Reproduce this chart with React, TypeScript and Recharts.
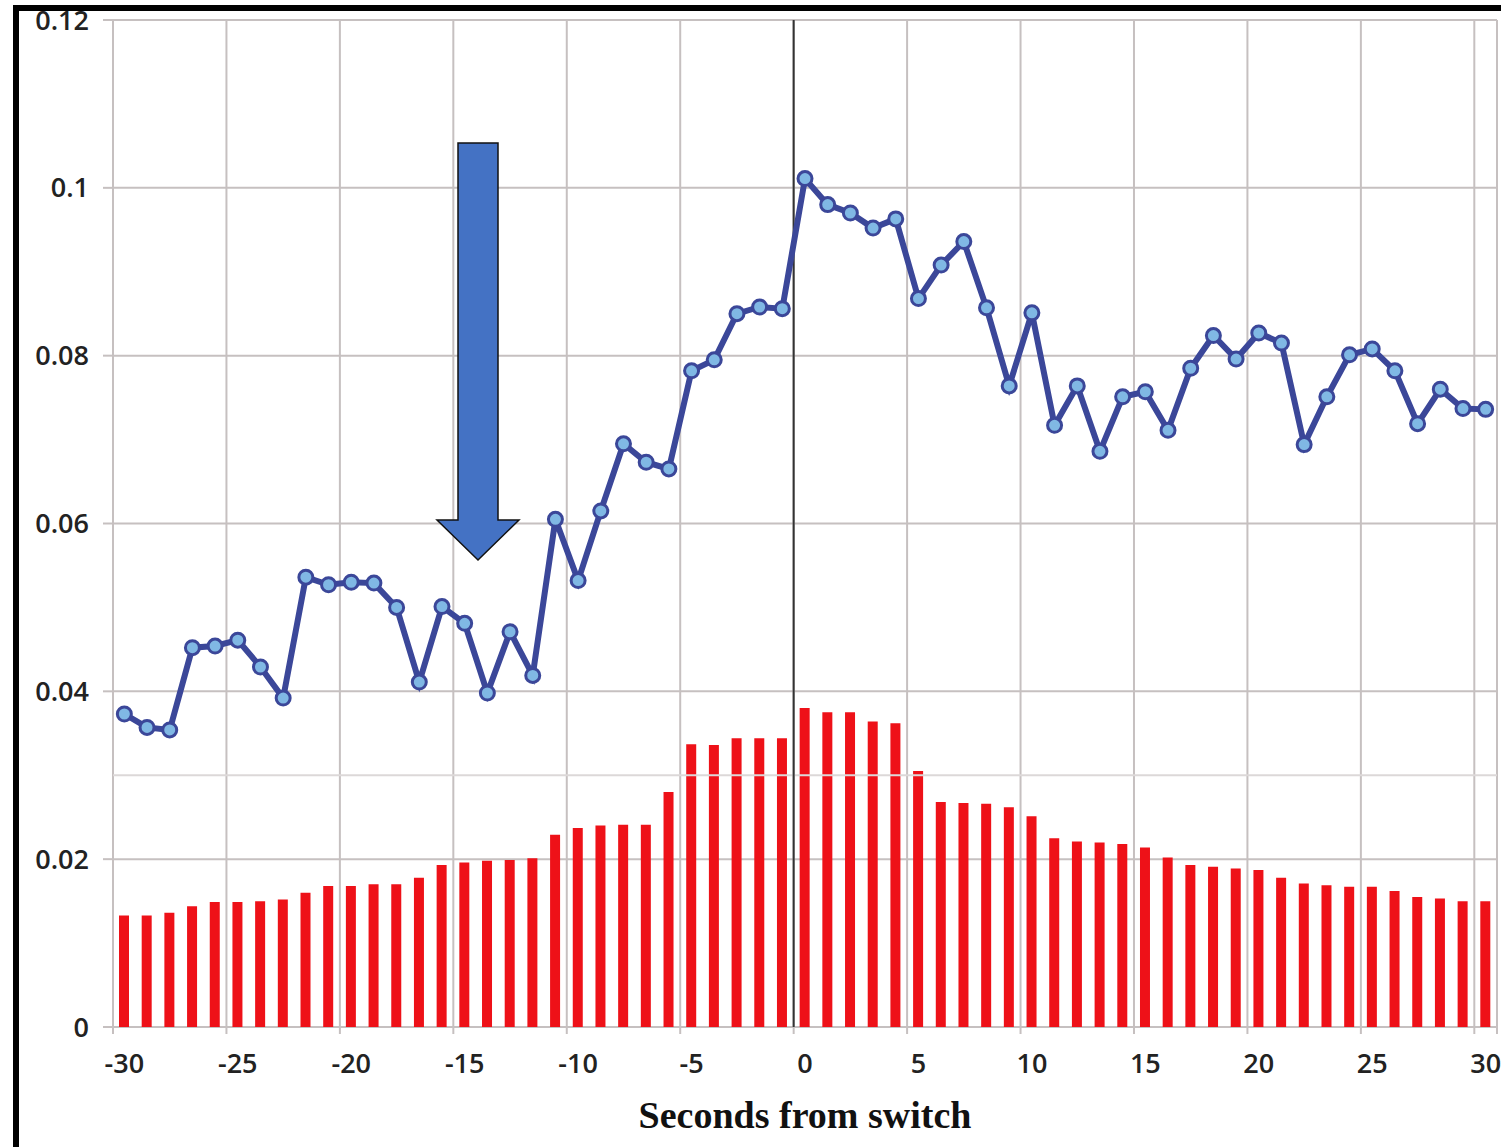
import React from 'react';
import { ComposedChart, Bar, Line, XAxis, YAxis, CartesianGrid, ReferenceLine } from 'recharts';

const seconds = [
  -30, -29, -28, -27, -26, -25, -24, -23, -22, -21,
  -20, -19, -18, -17, -16, -15, -14, -13, -12, -11,
  -10, -9, -8, -7, -6, -5, -4, -3, -2, -1,
  0, 1, 2, 3, 4, 5, 6, 7, 8, 9,
  10, 11, 12, 13, 14, 15, 16, 17, 18, 19,
  20, 21, 22, 23, 24, 25, 26, 27, 28, 29, 30,
];

const blueSeries = [
  0.0373, 0.0357, 0.0354, 0.0452, 0.0454, 0.0461, 0.0429, 0.0392, 0.0536, 0.0527,
  0.0530, 0.0529, 0.0500, 0.0411, 0.0501, 0.0481, 0.0398, 0.0471, 0.0419, 0.0605,
  0.0532, 0.0615, 0.0695, 0.0673, 0.0665, 0.0782, 0.0795, 0.0850, 0.0858, 0.0856,
  0.1011, 0.0980, 0.0970, 0.0952, 0.0963, 0.0868, 0.0908, 0.0936, 0.0857, 0.0764,
  0.0851, 0.0717, 0.0764, 0.0686, 0.0751, 0.0757, 0.0711, 0.0785, 0.0824, 0.0796,
  0.0827, 0.0815, 0.0694, 0.0751, 0.0801, 0.0808, 0.0782, 0.0719, 0.0760, 0.0737, 0.0736,
];

const redSeries = [
  0.0133, 0.0133, 0.0136, 0.0144, 0.0149, 0.0149, 0.0150, 0.0152, 0.0160, 0.0168,
  0.0168, 0.0170, 0.0170, 0.0178, 0.0193, 0.0196, 0.0198, 0.0199, 0.0201, 0.0229,
  0.0237, 0.0240, 0.0241, 0.0241, 0.0280, 0.0337, 0.0336, 0.0344, 0.0344, 0.0344,
  0.0380, 0.0375, 0.0375, 0.0364, 0.0362, 0.0305, 0.0268, 0.0267, 0.0266, 0.0262,
  0.0251, 0.0225, 0.0221, 0.0220, 0.0218, 0.0214, 0.0202, 0.0193, 0.0191, 0.0189,
  0.0187, 0.0178, 0.0171, 0.0169, 0.0167, 0.0167, 0.0162, 0.0155, 0.0153, 0.0150, 0.0150,
];

const xTickLabels = [-30, -25, -20, -15, -10, -5, 0, 5, 10, 15, 20, 25, 30];
const gridBoundaries = [-30.5, -25.5, -20.5, -15.5, -10.5, -5.5, -0.5, 4.5, 9.5, 14.5, 19.5, 24.5, 29.5, 30.5];
const yTicks = [0, 0.02, 0.04, 0.06, 0.08, 0.1, 0.12];
const switchBoundary = -0.5;
const minorLevel = 0.03;

const data = seconds.map((t, i) => ({ t, rate: blueSeries[i], base: redSeries[i] }));

const GRID = '#c6c0c0';
const LABEL_FONT = '"Open Sans", "Liberation Sans", sans-serif';

const EmptyTick = () => <g />;

export default function App() {
  return (
    <div style={{ position: 'absolute', left: 0, top: 0, width: 1501, height: 1147, background: '#fff' }}>
      <ComposedChart
        width={1501}
        height={1147}
        data={data}
        margin={{ top: 20, right: 4, bottom: 10, left: 0 }}
      >
        <CartesianGrid xAxisId="grid" stroke={GRID} strokeWidth={2} />
        <XAxis
          xAxisId="grid"
          type="number"
          dataKey="t"
          domain={[-30.5, 30.5]}
          ticks={gridBoundaries}
          interval={0}
          allowDataOverflow
          height={1}
          tick={EmptyTick}
          axisLine={false}
          tickLine={{ stroke: GRID, strokeWidth: 2 }}
          tickSize={7}
        />
        <XAxis
          xAxisId="main"
          type="number"
          dataKey="t"
          domain={[-30.5, 30.5]}
          ticks={xTickLabels}
          allowDataOverflow
          interval={0}
          height={109}
          axisLine={false}
          tickLine={false}
          tickSize={0}
          tickMargin={26}
          tick={{ fill: '#222', fontSize: 27, fontWeight: 600, fontFamily: LABEL_FONT }}
          label={{
            value: 'Seconds from switch',
            position: 'insideBottom',
            offset: 9,
            style: { fill: '#111', fontSize: 38, fontWeight: 700, fontFamily: '"Liberation Serif", "DejaVu Serif", serif' },
          }}
        />
        <YAxis
          type="number"
          domain={[0, 0.12]}
          ticks={yTicks}
          width={113}
          axisLine={false}
          tickLine={{ stroke: GRID, strokeWidth: 2 }}
          tickSize={10}
          tickMargin={14}
          tickFormatter={(v: number) => String(Number(v.toFixed(2)))}
          tick={{ fill: '#222', fontSize: 27, fontWeight: 600, fontFamily: LABEL_FONT }}
        />
        <ReferenceLine xAxisId="main" y={minorLevel} stroke="#dcd8d8" strokeWidth={2} />
        <Bar xAxisId="main" dataKey="base" fill="#ee1118" barSize={10} isAnimationActive={false} />
        <ReferenceLine xAxisId="main" x={switchBoundary} stroke="#333" strokeWidth={2} />
        <Line
          xAxisId="main"
          dataKey="rate"
          stroke="#3b4799"
          strokeWidth={6}
          dot={{ r: 7, fill: '#80b8e4', stroke: '#3b4799', strokeWidth: 3 }}
          isAnimationActive={false}
        />
      </ComposedChart>
      <svg
        width={1501}
        height={1147}
        style={{ position: 'absolute', left: 0, top: 0, pointerEvents: 'none' }}
      >
        <path
          d="M458,143 L498,143 L498,520 L519,520 L478,560 L437,520 L458,520 Z"
          fill="#4472c4"
          stroke="#111"
          strokeWidth={1.5}
        />
        <rect x={0} y={0} width={1501} height={5} fill="#fff" />
        <rect x={13} y={5} width={1488} height={6} fill="#000" />
        <rect x={13} y={5} width={6} height={1142} fill="#000" />
      </svg>
    </div>
  );
}
